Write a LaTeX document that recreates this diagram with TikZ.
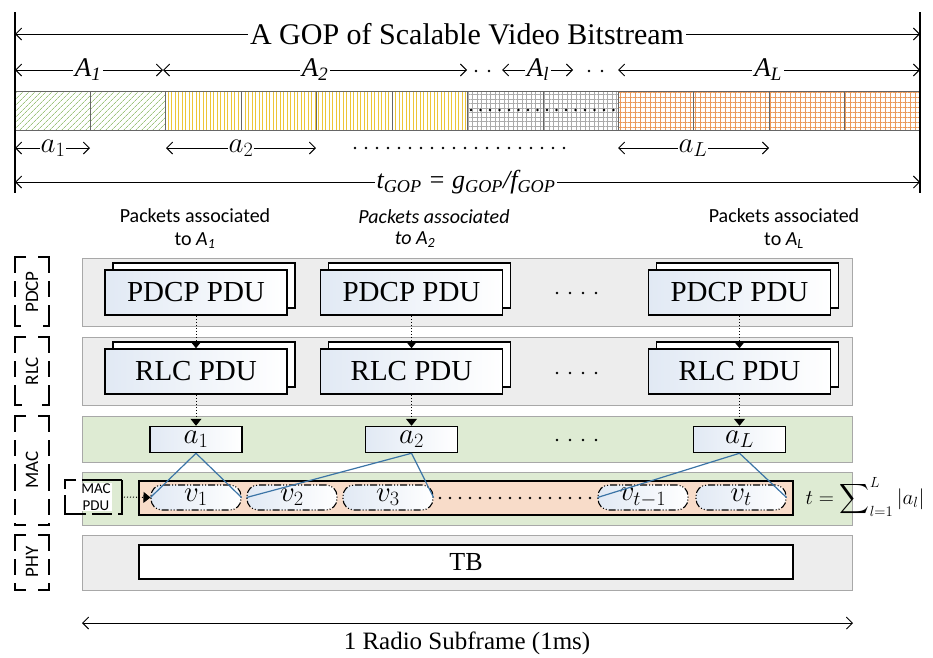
\documentclass[tikz,border=0pt]{standalone}
\usepackage{fix-cm}
\usepackage{amsmath}
\usepackage{fontspec}
\setmainfont{Liberation Serif}
\setsansfont{Carlito}
\usetikzlibrary{arrows.meta,patterns.meta,shadows,positioning}

\definecolor{layergray}{HTML}{EDEDED}
\definecolor{layeredge}{HTML}{A8A8A8}
\definecolor{macgreen}{HTML}{DEEBD3}
\definecolor{pduorange}{HTML}{F8DCC9}
\definecolor{linkblue}{HTML}{3B74A6}
\definecolor{hatchgreen}{HTML}{9EC47E}
\definecolor{hatchyellow}{HTML}{EDC53A}
\definecolor{gridgray}{HTML}{ABABAB}
\definecolor{gridorange}{HTML}{EA9A5C}
\definecolor{pdublue}{HTML}{E1E9F4}

\tikzstyle{dim} = [line width=0.9pt, {Straight Barb[length=6pt,width=12pt]}-{Straight Barb[length=6pt,width=12pt]}]
\tikzstyle{dimtext} = [fill=white, inner sep=2pt]
\tikzstyle{seggreen} = [pattern={Lines[angle=45,distance=4pt,line width=0.8pt]}, pattern color=hatchgreen]
\tikzstyle{segyellow} = [pattern={Lines[angle=90,distance=3.5pt,line width=0.8pt]}, pattern color=hatchyellow]
\tikzstyle{seggray} = [pattern={Lines[angle=0,distance=4.5pt,line width=0.5pt]}, pattern color=gridgray,
  preaction={pattern={Lines[angle=90,distance=4.5pt,line width=0.5pt]}, pattern color=gridgray}]
\tikzstyle{segorange} = [pattern={Lines[angle=0,distance=5pt,line width=0.6pt]}, pattern color=gridorange,
  preaction={pattern={Lines[angle=90,distance=5pt,line width=0.6pt]}, pattern color=gridorange}]
\tikzstyle{segline} = [draw=black!60, line width=0.7pt]
\tikzstyle{layer} = [rectangle, draw=layeredge, fill=layergray, minimum width=770pt, inner sep=0pt, line width=0.8pt]
\tikzstyle{pdu} = [rectangle, draw, line width=1.5pt, left color=pdublue, right color=white, minimum width=182pt,
  minimum height=45pt, inner sep=0pt, font=\fontsize{29}{31}\selectfont,
  copy shadow={shadow xshift=8pt, shadow yshift=7pt, draw, line width=1.5pt, fill=white}]
\tikzstyle{abox} = [rectangle, draw, line width=1.5pt, left color=pdublue, right color=white, minimum width=92pt,
  minimum height=26pt, inner sep=0pt, font=\fontsize{29}{31}\selectfont]
\tikzstyle{vbox} = [rectangle, rounded corners=11pt, draw, line width=1.1pt,
  dash pattern=on 7pt off 2pt on 1pt off 2pt on 1pt off 2pt, left color=pdublue, right color=white,
  minimum width=90pt, minimum height=25pt, inner sep=0pt, font=\fontsize{29}{31}\selectfont]
\tikzstyle{tag} = [line width=2.5pt, dash pattern=on 27pt off 8pt on 16pt off 8pt]
\tikzstyle{tagtext} = [rotate=90, font=\sffamily\fontsize{19}{21}\selectfont]
\tikzstyle{pkt} = [align=center, font=\sffamily\fontsize{20}{23}\selectfont]
\tikzstyle{dotarr} = [dotted, line width=1pt, -{Triangle[length=7pt,width=11pt]}]
\tikzstyle{link} = [draw=linkblue, line width=1.2pt]

\begin{document}
\begin{tikzpicture}[x=1pt,y=-1pt]
  \useasboundingbox (0,0) rectangle (933,657);

  % GOP bitstream
  \foreach \i in {0,1} \path[seggreen] (15+75.42*\i,91) rectangle +(75.42,39);
  \foreach \i in {2,...,5} \path[segyellow] (15+75.42*\i,91) rectangle +(75.42,39);
  \foreach \i in {6,7} \path[seggray] (15+75.42*\i,91) rectangle +(75.42,39);
  \foreach \i in {8,...,11} \path[segorange] (15+75.42*\i,91) rectangle +(75.42,39);
  \foreach \i in {0,...,11} \draw[segline] (15+75.42*\i,91) rectangle +(75.42,39);
  \foreach \x in {471,480.5,...,617} \fill (\x,110) circle (1.3);

  \draw[line width=2.2pt] (15,12) -- (15,193);
  \draw[line width=2.2pt] (920,12) -- (920,193);

  \draw[dim] (15,34) -- (920,34);
  \draw (467,34)node[dimtext, font=\fontsize{30}{32}\selectfont](gop){A GOP of Scalable Video Bitstream};

  \draw[dim] (15,70) -- (163,70);
  \draw[dim] (163,70) -- (467,70);
  \draw[dim] (502,70) -- (573,70);
  \draw[dim] (618,70) -- (920,70);
  \foreach \x in {476,489,589,602} \fill (\x,71) circle (1.3);
  \draw (88,70)node[dimtext, font=\fontsize{27}{29}\selectfont](A1){\textit{A\textsubscript{1}}};
  \draw (315,70)node[dimtext, font=\fontsize{27}{29}\selectfont](A2){\textit{A\textsubscript{2}}};
  \draw (538,70)node[dimtext, font=\fontsize{27}{29}\selectfont](Al){\textit{A\textsubscript{l}}};
  \draw (768,70)node[dimtext, font=\fontsize{27}{29}\selectfont](AL){\textit{A\textsubscript{L}}};

  \draw[dim] (15,148) -- (90,148);
  \draw[dim] (166,148) -- (316,148);
  \draw[dim] (618,148) -- (769,148);
  \foreach \x in {355,366,...,570} \fill (\x,148) circle (1.3);
  \draw (53,148)node[dimtext, inner sep=1pt, font=\fontsize{29}{31}\selectfont](a1len){$a_1$};
  \draw (241,148)node[dimtext, inner sep=1pt, font=\fontsize{29}{31}\selectfont](a2len){$a_2$};
  \draw (693,148)node[dimtext, inner sep=1pt, font=\fontsize{29}{31}\selectfont](aLlen){$a_L$};

  \draw[dim] (15,182) -- (920,182);
  \draw (466,182)node[dimtext, font=\fontsize{26}{28}\selectfont](tgop)
    {\textit{t\textsubscript{GOP} = g\textsubscript{GOP}/f\textsubscript{GOP}}};

  % packet labels
  \draw (195,228.5)node[pkt](k1){Packets associated\\to \textit{A\textsubscript{1}}};
  \draw (434,217)node[pkt, font=\sffamily\itshape\fontsize{20}{23}\selectfont](k2){Packets associated};
  \draw (415,240)node[pkt, font=\sffamily\itshape\fontsize{20}{23}\selectfont](k2b){to A\textsubscript{2}};
  \draw (784,228.5)node[pkt](k3){Packets associated\\to \textit{A\textsubscript{L}}};

  % layers
  \draw (467.5,292)node[layer, minimum height=68pt](pdcp){};
  \draw (467.5,371)node[layer, minimum height=68pt](rlc){};
  \draw (467.5,439)node[layer, fill=macgreen, minimum height=46pt](mac){};
  \draw (467.5,498.5)node[layer, fill=macgreen, minimum height=53pt](macpdu){};
  \draw (467.5,562.5)node[layer, minimum height=55pt](phy){};

  \foreach \t/\b in {257/326,337/405,416/525,535/590} {
    \draw[tag] (26,\t) -- (15,\t) -- (15,\b) -- (26,\b);
    \draw[tag] (38,\t) -- (49,\t) -- (49,\b) -- (38,\b);
  }
  \draw (32,292)node[tagtext](tpdcp){PDCP};
  \draw (32,371)node[tagtext](trlc){RLC};
  \draw (32,470)node[tagtext](tmac){MAC};
  \draw (32,562)node[tagtext](tphy){PHY};

  \draw (196,292.5)node[pdu](p1){PDCP PDU};
  \draw (411.5,292.5)node[pdu](p2){PDCP PDU};
  \draw (739.5,292.5)node[pdu](p3){PDCP PDU};
  \draw (196,371.5)node[pdu](r1){RLC PDU};
  \draw (411.5,371.5)node[pdu](r2){RLC PDU};
  \draw (739.5,371.5)node[pdu](r3){RLC PDU};
  \foreach \x in {557,570,583,596} {
    \fill (\x,293) circle (1.4);
    \fill (\x,373) circle (1.4);
    \fill (\x,440) circle (1.4);
  }

  \draw (196,439.5)node[abox](a1){$a_1$};
  \draw (411.5,439.5)node[abox](a2){$a_2$};
  \draw (739.5,439.5)node[abox](aL){$a_L$};

  \path[dotarr] (p1) edge (r1.north) (r1) edge (a1.north);
  \path[dotarr] (p2) edge (r2.north) (r2) edge (a2.north);
  \path[dotarr] (p3) edge (r3.north) (r3) edge (aL.north);

  % MAC PDU
  \draw (466,498)node[rectangle, draw, line width=1.5pt, fill=pduorange, minimum width=654pt,
    minimum height=34pt](band){};
  \draw (196,497.5)node[vbox](v1){$v_1$};
  \draw (292,497.5)node[vbox](v2){$v_2$};
  \draw (388,497.5)node[vbox](v3){$v_3$};
  \draw (643,497.5)node[vbox](vt1){$v_{t-1}$};
  \draw (741,497.5)node[vbox](vt){$v_t$};
  \foreach \x in {440,450,...,594} \fill (\x,498) circle (1.3);
  \path[link] (a1.south) edge (v1.west) (a1.south) edge (v1.east);
  \path[link] (a2.south) edge (v2.west) (a2.south) edge (v3.east);
  \path[link] (aL.south) edge (vt1.west) (aL.south) edge (vt.east);

  \draw[line width=2pt, dash pattern=on 40pt off 6pt on 20pt off 6pt] (122,480) -- (65,480) -- (65,514) -- (122,514) -- cycle;
  \draw (96,497)node[fill=white, inner sep=1pt, align=center, font=\sffamily\fontsize{15}{17}\selectfont](mlbl){MAC\\PDU};
  \coordinate (mpr) at (124,497);
  \path[dotarr] (mpr) edge (v1.west);
  \draw (865,497)node[font=\fontsize{21}{23}\selectfont](tsum){$t=\displaystyle\sum\nolimits_{l=1}^{L}|a_l|$};

  % PHY
  \draw (466,562)node[rectangle, draw, line width=1.5pt, fill=white, minimum width=654pt,
    minimum height=34pt, font=\fontsize{26}{28}\selectfont](tb){TB};

  % subframe
  \draw[dim] (82,623) -- (853,623);
  \draw (467,643)node[font=\fontsize{25}{27}\selectfont](sub){1 Radio Subframe (1ms)};
\end{tikzpicture}
\end{document}
